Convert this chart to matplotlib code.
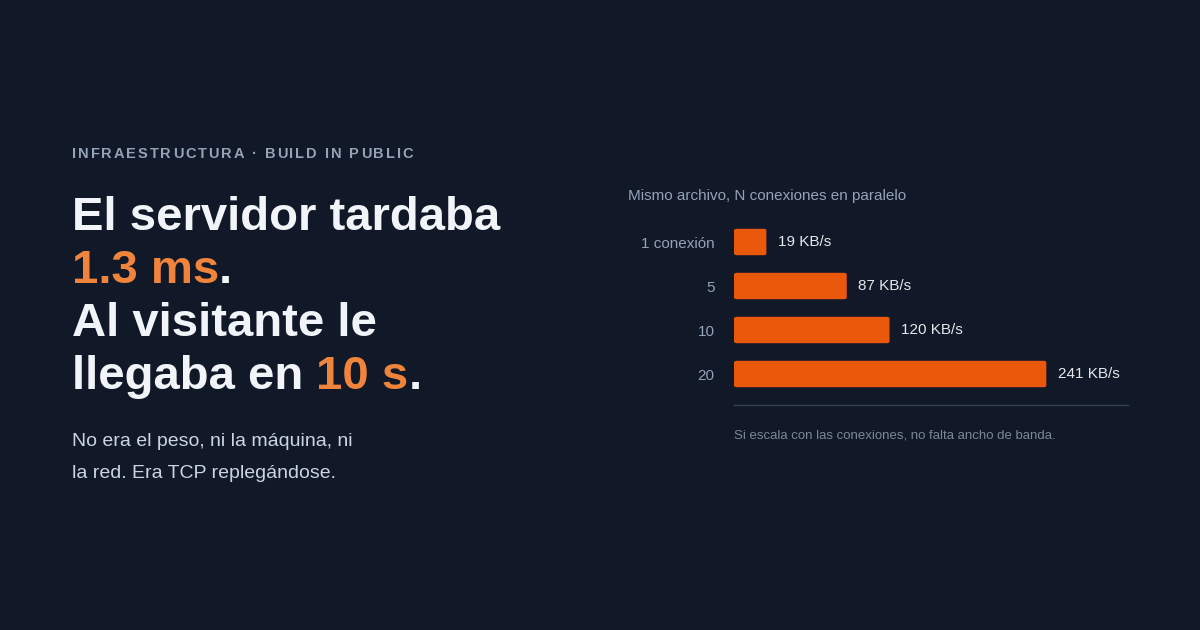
import matplotlib.pyplot as plt
from matplotlib.patches import FancyBboxPatch

plt.rcParams['font.family'] = ['Liberation Sans', 'DejaVu Sans']

# datos del gráfico
categorias = ['1 conexión', '5', '10', '20']
velocidades = [19, 87, 120, 241]
etiquetas = ['19 KB/s', '87 KB/s', '120 KB/s', '241 KB/s']

FONDO = '#111827'
NARANJA = '#ea580c'
NARANJA_TXT = '#f0843c'
BLANCO = '#f1f5f9'
GRIS = '#94a3b8'

fig = plt.figure(figsize=(12, 6.3), dpi=100, facecolor=FONDO)
W, H = 1200, 630
renderer = fig.canvas.get_renderer()


def texto(x, y, partes, size, weight='normal', spacing=0.0):
    # partes: lista de (texto, color); x,y en pixeles desde arriba-izquierda
    for s, color in partes:
        trozos = list(s) if spacing else [s]
        for t in trozos:
            obj = fig.text(x / W, 1 - y / H, t, color=color, fontsize=size,
                           fontweight=weight, va='baseline', ha='left')
            bb = obj.get_window_extent(renderer)
            if t == ' ':
                ancho = size * 0.28 * 100 / 72
            else:
                ancho = bb.width
            x += ancho + spacing


# columna izquierda
texto(72, 158, [('INFRAESTRUCTURA · BUILD IN PUBLIC', GRIS)], 10.5, 'bold', spacing=1.9)
texto(72, 230, [('El servidor tardaba', BLANCO)], 34, 'bold')
texto(72, 283, [('1.3 ms', NARANJA_TXT), ('.', BLANCO)], 34, 'bold')
texto(72, 336, [('Al visitante le', BLANCO)], 34, 'bold')
texto(72, 389, [('llegaba en ', BLANCO), ('10 s', NARANJA_TXT), ('.', BLANCO)], 34, 'bold')
texto(72, 446, [('No era el peso, ni la máquina, ni', '#cbd5e1')], 14)
texto(72, 478, [('la red. Era TCP replegándose.', '#cbd5e1')], 14)

# gráfico de barras
x0, x1 = 734, 1128
y_top, y_bot = 220, 396
ax = fig.add_axes([x0 / W, 1 - y_bot / H, (x1 - x0) / W, (y_bot - y_top) / H])
ax.set_facecolor(FONDO)
ax.set_xlim(0, 304)
ax.set_ylim(len(categorias) - 0.5, -0.5)
for i, (v, lab) in enumerate(zip(velocidades, etiquetas)):
    ax.add_patch(FancyBboxPatch((0, i - 0.3), max(v, 25), 0.6,
                                boxstyle='round,pad=0,rounding_size=2',
                                mutation_aspect=0.02, fc=NARANJA, ec='none'))
    ax.text(max(v, 25) + 9, i, lab, color='#e5e7eb', fontsize=11, va='center')
ax.set_yticks(range(len(categorias)))
ax.set_yticklabels(categorias, color=GRIS, fontsize=11)
ax.tick_params(axis='y', length=0, pad=14)
ax.set_xticks([])
for s in ax.spines.values():
    s.set_visible(False)

fig.text(628 / W, 1 - 196 / H, 'Mismo archivo, N conexiones en paralelo',
         color=GRIS, fontsize=11, va='center')
fig.add_artist(plt.Line2D([x0 / W, x1 / W], [1 - 405 / H] * 2, color='#334155', lw=1))
fig.text(x0 / W, 1 - 436 / H, 'Si escala con las conexiones, no falta ancho de banda.',
         color='#7b8798', fontsize=9.5, va='center')

fig.savefig('out.png', dpi=100, facecolor=FONDO)
